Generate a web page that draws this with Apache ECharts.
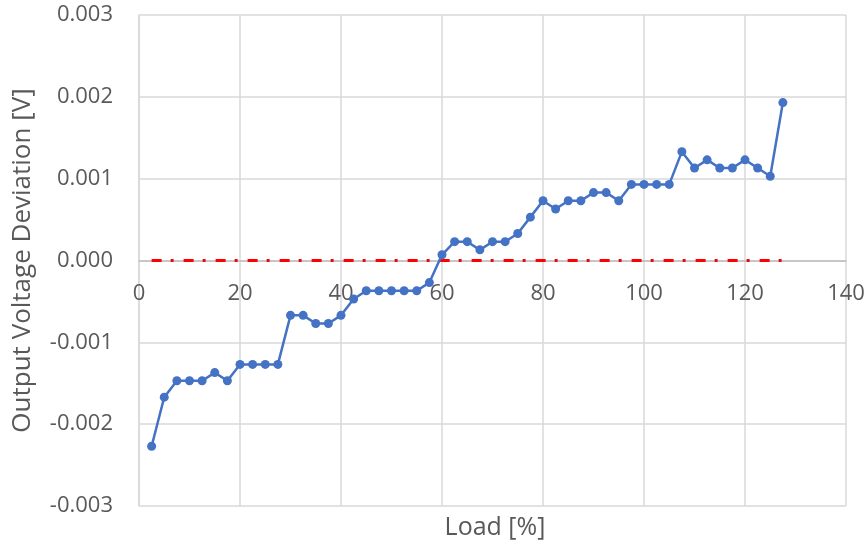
<!DOCTYPE html>
<html>
<head>
<meta charset="utf-8">
<script src="https://cdn.jsdelivr.net/npm/echarts@6/dist/echarts.min.js"></script>
<style>
html,body{margin:0;padding:0;background:#fff;}
#chart{width:868px;height:544px;}
</style>
</head>
<body>
<div id="chart"></div>
<script>
var loads = [2.5, 5, 7.5, 10, 12.5, 15, 17.5, 20, 22.5, 25, 27.5, 30, 32.5, 35, 37.5, 40, 42.5, 45, 47.5, 50,
  52.5, 55, 57.5, 60, 62.5, 65, 67.5, 70, 72.5, 75, 77.5, 80, 82.5, 85, 87.5, 90, 92.5, 95, 97.5, 100,
  102.5, 105, 107.5, 110, 112.5, 115, 117.5, 120, 122.5, 125, 127.5];
var deviation = [-0.00227, -0.00167, -0.00147, -0.00147, -0.00147, -0.00137, -0.00147, -0.00127, -0.00127, -0.00127,
  -0.00127, -0.00067, -0.00067, -0.00077, -0.00077, -0.00067, -0.00047, -0.00037, -0.00037, -0.00037,
  -0.00037, -0.00037, -0.00027, 0.00007, 0.00023, 0.00023, 0.00013, 0.00023, 0.00023, 0.00033,
  0.00053, 0.00073, 0.00063, 0.00073, 0.00073, 0.00083, 0.00083, 0.00073, 0.00093, 0.00093,
  0.00093, 0.00093, 0.00133, 0.00113, 0.00123, 0.00113, 0.00113, 0.00123, 0.00113, 0.00103, 0.00193];
var reference = [0, 0, 0, 0, 0, 0, 0, 0, 0, 0, 0, 0, 0, 0, 0, 0, 0, 0, 0, 0,
  0, 0, 0, 0, 0, 0, 0, 0, 0, 0, 0, 0, 0, 0, 0, 0, 0, 0, 0, 0,
  0, 0, 0, 0, 0, 0, 0, 0, 0, 0, 0];
var xTicks = [0, 20, 40, 60, 80, 100, 120, 140];
var yTicks = [-0.003, -0.002, -0.001, 0.000, 0.001, 0.002, 0.003];
var xTitle = 'Load [%]';
var yTitle = 'Output Voltage Deviation [V]';

var FONT = 'Open Sans';
var TXT = '#595959';
var GRID_TOP = 15, GRID_BOTTOM = 38, H = 544;
var plotH = H - GRID_TOP - GRID_BOTTOM;
// place the x axis (line + labels) at y = 0, i.e. the middle of the symmetric y range
var zeroOffset = -plotH * (0 - yTicks[0]) / (yTicks[yTicks.length - 1] - yTicks[0]);

function pairs(xs, ys) { return xs.map(function (x, i) { return [x, ys[i]]; }); }

var chart = echarts.init(document.getElementById('chart'), null, {renderer: 'canvas'});
chart.setOption({
  animation: false,
  backgroundColor: '#ffffff',
  grid: {left: 139, right: 22, top: GRID_TOP, bottom: GRID_BOTTOM, containLabel: false},
  title: {
    text: xTitle, left: 490, top: 510, textAlign: 'center',
    textStyle: {fontFamily: FONT, fontSize: 25, fontWeight: 'normal', color: TXT}
  },
  xAxis: {
    type: 'value', min: xTicks[0], max: xTicks[xTicks.length - 1], interval: 20,
    offset: zeroOffset,
    axisLine: {show: true, onZero: false, lineStyle: {color: '#bfbfbf', width: 1.5}},
    axisTick: {show: false},
    axisLabel: {fontFamily: FONT, fontSize: 22, color: TXT, margin: 22},
    splitLine: {show: true, lineStyle: {color: '#d9d9d9', width: 1.5}}
  },
  yAxis: {
    type: 'value', min: yTicks[0], max: yTicks[yTicks.length - 1], interval: 0.001,
    name: yTitle, nameLocation: 'middle', nameGap: 103,
    nameTextStyle: {fontFamily: FONT, fontSize: 26, color: TXT},
    axisLine: {show: true, onZero: false, lineStyle: {color: '#d9d9d9', width: 1.5}},
    axisTick: {show: false},
    axisLabel: {fontFamily: FONT, fontSize: 22, color: TXT, margin: 26,
      formatter: function (v) { return v.toFixed(3); }},
    splitLine: {show: true, lineStyle: {color: '#d9d9d9', width: 1.5}}
  },
  series: [
    {
      type: 'line', data: pairs(loads, reference), showSymbol: false, symbol: 'none',
      lineStyle: {color: '#ff0000', width: 3, type: [10, 9, 3, 10], cap: 'butt'},
      z: 2
    },
    {
      type: 'line', data: pairs(loads, deviation), symbol: 'circle', symbolSize: 9,
      itemStyle: {color: '#4472c4'},
      lineStyle: {color: '#4472c4', width: 2.5},
      z: 3
    }
  ]
});
</script>
</body>
</html>
